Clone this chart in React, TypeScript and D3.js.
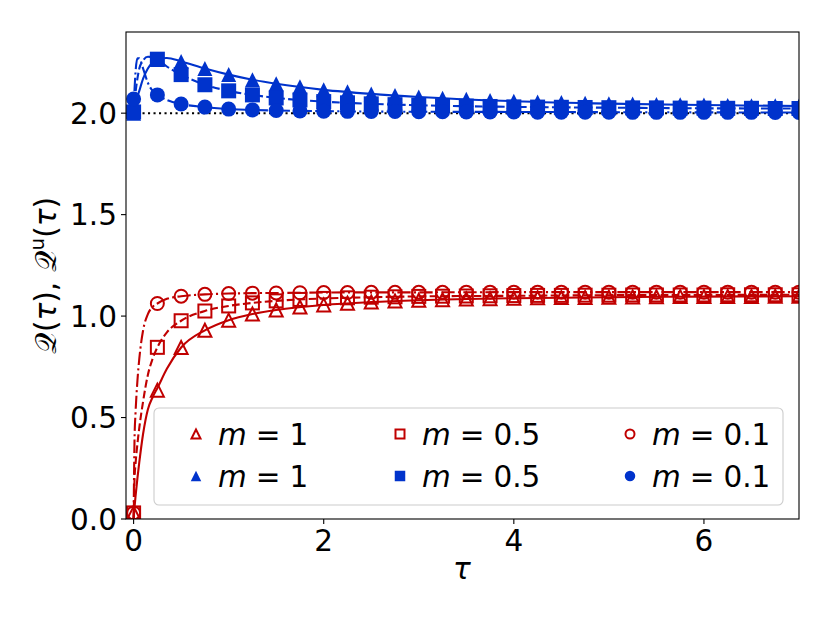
import * as d3 from "d3";

// marker positions (every 0.25 in tau)
const tauMarks = [
  0, 0.25, 0.5, 0.75, 1, 1.25, 1.5, 1.75, 2, 2.25, 2.5, 2.75, 3, 3.25, 3.5, 3.75, 4,
  4.25, 4.5, 4.75, 5, 5.25, 5.5, 5.75, 6, 6.25, 6.5, 6.75, 7,
];

// red (open markers): Q(tau)
const redM1 = [
  0.03, 0.635, 0.845, 0.93, 0.98, 1.01, 1.03, 1.045, 1.055, 1.063, 1.069, 1.074, 1.078,
  1.081, 1.084, 1.086, 1.088, 1.09, 1.091, 1.092, 1.093, 1.094, 1.095, 1.096, 1.096,
  1.097, 1.097, 1.098, 1.098,
];
const redM05 = [
  0.03, 0.846, 0.977, 1.025, 1.05, 1.065, 1.075, 1.082, 1.087, 1.09, 1.093, 1.095,
  1.097, 1.098, 1.099, 1.1, 1.101, 1.102, 1.102, 1.103, 1.103, 1.104, 1.104, 1.104,
  1.104, 1.105, 1.105, 1.105, 1.105,
];
const redM01 = [
  0.03, 1.062, 1.098, 1.107, 1.111, 1.113, 1.114, 1.115, 1.116, 1.116, 1.117, 1.117,
  1.117, 1.117, 1.118, 1.118, 1.118, 1.118, 1.118, 1.118, 1.118, 1.118, 1.118, 1.118,
  1.118, 1.118, 1.118, 1.118, 1.118,
];

// blue (filled markers): Q^u(tau)
const blueM1 = [
  2.0, 2.265, 2.255, 2.22, 2.19, 2.165, 2.145, 2.13, 2.115, 2.105, 2.095, 2.087, 2.08,
  2.074, 2.068, 2.063, 2.059, 2.055, 2.052, 2.049, 2.047, 2.045, 2.043, 2.041, 2.04,
  2.038, 2.037, 2.036, 2.035,
];
const blueM05 = [
  2.006, 2.266, 2.19, 2.14, 2.11, 2.09, 2.075, 2.065, 2.057, 2.051, 2.046, 2.042,
  2.039, 2.037, 2.035, 2.033, 2.031, 2.03, 2.029, 2.028, 2.027, 2.026, 2.026, 2.025,
  2.025, 2.024, 2.024, 2.023, 2.023,
];
const blueM01 = [
  2.07, 2.09, 2.045, 2.03, 2.02, 2.016, 2.013, 2.011, 2.01, 2.009, 2.008, 2.008, 2.007,
  2.007, 2.006, 2.006, 2.006, 2.005, 2.005, 2.005, 2.005, 2.004, 2.004, 2.004, 2.004,
  2.004, 2.004, 2.003, 2.003,
];

// curve samples (denser near tau = 0)
const tauLine = [
  0, 0.01, 0.02, 0.04, 0.06, 0.1, 0.15, 0.2, 0.25, 0.35, 0.5, 0.75, 1, 1.25, 1.5, 2,
  2.5, 3, 4, 5, 6, 7,
];
const redLineM1 = [
  0.0, 0.06, 0.11, 0.2, 0.28, 0.42, 0.54, 0.6, 0.645, 0.74, 0.845, 0.93, 0.98, 1.01,
  1.03, 1.055, 1.069, 1.078, 1.088, 1.093, 1.096, 1.098,
];
const redLineM05 = [
  0.0, 0.2, 0.27, 0.37, 0.45, 0.58, 0.71, 0.79, 0.846, 0.92, 0.977, 1.025, 1.05,
  1.065, 1.075, 1.087, 1.093, 1.097, 1.1, 1.103, 1.104, 1.105,
];
const redLineM01 = [
  0.0, 0.4, 0.52, 0.68, 0.79, 0.93, 1.01, 1.045, 1.062, 1.085, 1.098, 1.107, 1.111,
  1.113, 1.114, 1.116, 1.117, 1.117, 1.118, 1.118, 1.118, 1.118,
];
const blueLineM1 = [
  2.0, 2.02, 2.04, 2.08, 2.11, 2.17, 2.22, 2.25, 2.265, 2.272, 2.255, 2.22, 2.19,
  2.165, 2.145, 2.115, 2.095, 2.08, 2.059, 2.047, 2.04, 2.035,
];
const blueLineM05 = [
  2.0, 2.05, 2.1, 2.17, 2.22, 2.26, 2.278, 2.275, 2.266, 2.23, 2.19, 2.14, 2.11, 2.09,
  2.075, 2.057, 2.046, 2.039, 2.031, 2.027, 2.024, 2.023,
];
const blueLineM01 = [
  2.0, 2.12, 2.2, 2.27, 2.27, 2.22, 2.15, 2.11, 2.09, 2.065, 2.045, 2.03, 2.02, 2.016,
  2.013, 2.01, 2.008, 2.007, 2.006, 2.005, 2.004, 2.003,
];

const xTicks = [0, 2, 4, 6];
const yTicks = [0, 0.5, 1, 1.5, 2];
const legendLabels = ["1", "0.5", "0.1"];

const RED = "#c00000";
const BLUE = "#0033cc";
const FONT = "DejaVu Sans, sans-serif";
const FS = 29.5;

const W = 831;
const H = 623;
const left = 126;
const right = 799;
const top = 32;
const bottom = 519;

type Shape = "tri" | "sq" | "circ";

function Marker({ shape, x, y, size, filled, color }: {
  shape: Shape; x: number; y: number; size: number; filled: boolean; color: string;
}) {
  const h = size / 2;
  const fill = filled ? color : "none";
  const sw = filled ? 0 : 2;
  const hs = filled ? h : h - 1;
  if (shape === "tri") {
    return (
      <path
        d={`M${x},${y - hs}L${x - hs},${y + hs}L${x + hs},${y + hs}Z`}
        fill={fill} stroke={color} strokeWidth={sw} strokeLinejoin="miter"
      />
    );
  }
  if (shape === "sq") {
    return <rect x={x - hs} y={y - hs} width={2 * hs} height={2 * hs} fill={fill} stroke={color} strokeWidth={sw} />;
  }
  return <circle cx={x} cy={y} r={hs} fill={fill} stroke={color} strokeWidth={sw} />;
}

export default function App() {
  const x = d3.scaleLinear().domain([-0.08, 7.0]).range([left, right]);
  const y = d3.scaleLinear().domain([0, 2.4]).range([bottom, top]);

  const lineGen = d3
    .line<[number, number]>()
    .x((d) => x(d[0]))
    .y((d) => y(d[1]))
    .curve(d3.curveMonotoneX);

  const lines = [
    { vals: redLineM1, color: RED, dash: "" },
    { vals: redLineM05, color: RED, dash: "7.7,3.3" },
    { vals: redLineM01, color: RED, dash: "13.3,3.3,2.1,3.3" },
    { vals: blueLineM1, color: BLUE, dash: "" },
    { vals: blueLineM05, color: BLUE, dash: "7.7,3.3" },
    { vals: blueLineM01, color: BLUE, dash: "13.3,3.3,2.1,3.3" },
  ];

  const markerSets: { vals: number[]; shape: Shape; filled: boolean; color: string }[] = [
    { vals: redM1, shape: "tri", filled: false, color: RED },
    { vals: redM05, shape: "sq", filled: false, color: RED },
    { vals: redM01, shape: "circ", filled: false, color: RED },
    { vals: blueM1, shape: "tri", filled: true, color: BLUE },
    { vals: blueM05, shape: "sq", filled: true, color: BLUE },
    { vals: blueM01, shape: "circ", filled: true, color: BLUE },
  ];

  const legendCols = [196, 400, 630];
  const legendRows = [434, 476];
  const shapes: Shape[] = ["tri", "sq", "circ"];

  return (
    <svg width={W} height={H} style={{ position: "absolute", left: 0, top: 0, background: "#fff" }} fontFamily={FONT}>
      <defs>
        <clipPath id="plot">
          <rect x={left} y={top} width={right - left} height={bottom - top} />
        </clipPath>
      </defs>
      <rect x={0} y={0} width={W} height={H} fill="#fff" />

      <g clipPath="url(#plot)">
        <line
          x1={left} x2={right} y1={y(2)} y2={y(2)}
          stroke="#000" strokeWidth={2} strokeDasharray="2.1,3.4"
        />
        {lines.map((l, i) => (
          <path
            key={i}
            d={lineGen(tauLine.map((t, j) => [t, l.vals[j]] as [number, number])) || ""}
            fill="none" stroke={l.color} strokeWidth={2.1} strokeDasharray={l.dash || undefined}
          />
        ))}
        {markerSets.map((s, i) => (
          <g key={i}>
            {tauMarks.map((t, j) => (
              <Marker key={j} shape={s.shape} x={x(t)} y={y(s.vals[j])} size={15} filled={s.filled} color={s.color} />
            ))}
          </g>
        ))}
      </g>

      {/* axes frame */}
      <rect x={left} y={top} width={right - left} height={bottom - top} fill="none" stroke="#000" strokeWidth={1.1} />

      {xTicks.map((t) => (
        <g key={t}>
          <line x1={x(t)} x2={x(t)} y1={bottom} y2={bottom + 5} stroke="#000" strokeWidth={1.1} />
          <text x={x(t)} y={bottom + 32} textAnchor="middle" fontSize={FS}>{t}</text>
        </g>
      ))}
      {yTicks.map((t) => (
        <g key={t}>
          <line x1={left - 5} x2={left} y1={y(t)} y2={y(t)} stroke="#000" strokeWidth={1.1} />
          <text x={left - 9} y={y(t) + 10.5} textAnchor="end" fontSize={FS}>{t.toFixed(1)}</text>
        </g>
      ))}

      <text x={462} y={579} textAnchor="middle" fontSize={FS} fontStyle="italic">τ</text>

      <text
        transform={`translate(56,${(top + bottom) / 2}) rotate(-90)`}
        textAnchor="middle" fontSize={FS}
      >
        <tspan>𝒬(</tspan>
        <tspan fontStyle="italic">τ</tspan>
        <tspan>),  𝒬</tspan>
        <tspan fontSize={20} dy={-12}>u</tspan>
        <tspan dy={12}>(</tspan>
        <tspan fontStyle="italic">τ</tspan>
        <tspan>)</tspan>
      </text>

      {/* legend */}
      <rect x={154} y={408} width={629} height={97} rx={5} fill="#fff" fillOpacity={0.8} stroke="#cccccc" strokeWidth={1.1} />
      {legendRows.map((ry, ri) =>
        legendCols.map((cx, ci) => (
          <g key={`${ri}-${ci}`}>
            <Marker
              shape={shapes[ci]} x={cx} y={ry} size={ri === 0 ? 11 : 10.5}
              filled={ri === 1} color={ri === 0 ? RED : BLUE}
            />
            <text x={cx + 22} y={ry + 11} fontSize={FS}>
              <tspan fontStyle="italic">m</tspan>
              <tspan dx={9}>=</tspan>
              <tspan dx={9}>{legendLabels[ci]}</tspan>
            </text>
          </g>
        ))
      )}
    </svg>
  );
}
